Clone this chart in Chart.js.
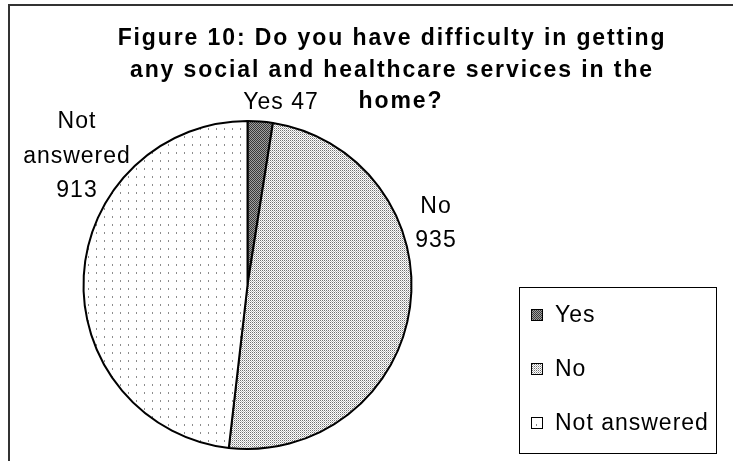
<!DOCTYPE html>
<html><head><meta charset="utf-8">
<script src="https://cdn.jsdelivr.net/npm/chart.js@4.4.1/dist/chart.umd.min.js"></script>
<style>html,body{margin:0;padding:0;background:#fff;overflow:hidden}canvas{display:block}</style>
</head><body>
<canvas id="c" width="733" height="461"></canvas>
<script>
// Survey answers
const categories = ['Yes', 'No', 'Not answered'];
const responses = [47, 935, 913];
const titleLines = ['Figure 10: Do you have difficulty in getting',
                    'any social and healthcare services in the',
                    'home?'];

const canvas = document.getElementById('c');
const mainCtx = canvas.getContext('2d');

// Small repeating tiles used as hatch fills for the slices
function makePattern(size, bg, dots) {
  const t = document.createElement('canvas');
  t.width = size; t.height = size;
  const x = t.getContext('2d');
  x.fillStyle = bg; x.fillRect(0, 0, size, size);
  dots.forEach(([dx, dy, w, h, col]) => { x.fillStyle = col; x.fillRect(dx, dy, w, h); });
  return mainCtx.createPattern(t, 'repeat');
}
const fills = [
  makePattern(2, '#a0a0a0', [[0, 0, 1, 1, '#383838'], [1, 1, 1, 1, '#383838']]),
  makePattern(2, '#ffffff', [[0, 0, 1, 1, '#727272'], [1, 1, 1, 1, '#bcbcbc']]),
  makePattern(8, '#ffffff', [[0, 0, 1, 2, '#8c8c8c']])
];

const FONT = '"Liberation Sans", Arial, sans-serif';

const decor = {
  id: 'decor',
  beforeDraw(chart) {
    const ctx = chart.ctx;
    ctx.save();
    ctx.fillStyle = '#fff';
    ctx.fillRect(0, 0, chart.width, chart.height);
    ctx.restore();
  },
  afterDraw(chart, args, opts) {
    const ctx = chart.ctx;
    ctx.save();
    // outer frame
    ctx.strokeStyle = '#333';
    ctx.lineWidth = 2;
    ctx.strokeRect(9, 5, 800, 600);

    ctx.fillStyle = '#000';
    // title
    ctx.font = 'bold 23px ' + FONT;
    ctx.letterSpacing = '1.9px';
    ctx.textAlign = 'center';
    ctx.textBaseline = 'alphabetic';
    titleLines.forEach((line, i) => ctx.fillText(line, opts.titleX[i], opts.titleY[i]));

    // slice labels
    ctx.font = '23px ' + FONT;
    ctx.letterSpacing = '1px';
    opts.labels.forEach((lab, i) => {
      const parts = lab.lines(categories[i], responses[i]);
      parts.forEach((p, k) => ctx.fillText(p, lab.x, lab.y + k * lab.step));
    });

    // legend box
    const L = opts.legend;
    ctx.lineWidth = 1;
    ctx.strokeStyle = '#000';
    ctx.strokeRect(L.x + 0.5, L.y + 0.5, L.w, L.h);
    ctx.textAlign = 'left';
    ctx.textBaseline = 'middle';
    categories.forEach((cat, i) => {
      const cy = L.firstY + i * L.gap;
      ctx.fillStyle = fills[i];
      ctx.fillRect(L.swX, cy - 6, 11, 11);
      ctx.strokeStyle = '#000';
      ctx.lineWidth = 1;
      ctx.strokeRect(L.swX + 0.5, cy - 5.5, 11, 11);
      ctx.fillStyle = '#000';
      ctx.fillText(cat, L.textX, cy + 1);
    });
    ctx.restore();
  }
};

new Chart(canvas, {
  type: 'pie',
  data: {
    labels: categories,
    datasets: [{
      data: responses,
      backgroundColor: fills,
      borderColor: '#000',
      borderWidth: 2
    }]
  },
  options: {
    responsive: false,
    animation: false,
    events: [],
    layout: { padding: { left: 82, right: 320, top: 120, bottom: 11 } },
    plugins: {
      legend: { display: false },
      tooltip: { enabled: false },
      decor: {
        titleX: [392, 392, 401],
        titleY: [45, 76.5, 108],
        labels: [
          { x: 281, y: 109, step: 0, lines: (c, v) => [c + ' ' + v] },
          { x: 436, y: 213, step: 34, lines: (c, v) => [c, String(v)] },
          { x: 77, y: 128, step: 34.5, lines: (c, v) => ['Not', 'answered', String(v)] }
        ],
        legend: { x: 519, y: 287, w: 197, h: 166, swX: 531, textX: 555, firstY: 315, gap: 54 }
      }
    }
  },
  plugins: [decor]
});
</script>
</body></html>
